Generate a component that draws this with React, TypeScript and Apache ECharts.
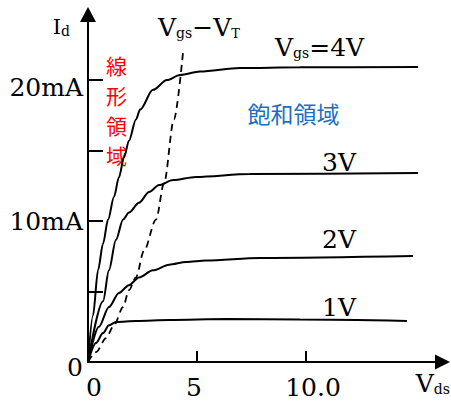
import React, { useEffect, useRef } from "react";
import * as echarts from "echarts";

// Drain current Id (mA) vs drain-source voltage Vds (V)
const VGS4: [number, number][] = [
  [0, 0], [0.23, 3.3], [0.46, 6.5], [0.69, 8.4], [0.92, 10.1], [1.19, 11.7],
  [1.42, 13.1], [1.65, 14.5], [1.88, 15.7], [2.2, 17.2], [2.39, 17.9],
  [2.98, 19.3], [3.62, 20.0], [4.22, 20.35], [5.14, 20.6], [6.97, 20.85],
  [9.72, 20.9], [15.14, 20.92],
];
const VGS3: [number, number][] = [
  [0, 0], [0.69, 4.3], [0.96, 6.5], [1.28, 8.65], [1.61, 10.1], [1.88, 10.6],
  [2.34, 11.3], [2.8, 12.05], [3.26, 12.55], [3.9, 12.9], [4.95, 13.12],
  [7.43, 13.33], [15.14, 13.4],
];
const VGS2: [number, number][] = [
  [0, 0], [0.5, 2.5], [0.96, 3.9], [1.42, 4.9], [1.88, 5.45], [2.34, 6.0],
  [2.98, 6.5], [3.72, 6.9], [4.5, 7.1], [5.41, 7.2], [7.89, 7.38], [14.91, 7.52],
];
const VGS1: [number, number][] = [
  [0, 0], [0.37, 1.35], [0.69, 2.05], [0.96, 2.6], [1.28, 2.84], [2.2, 2.91],
  [3.72, 2.98], [6.38, 3.05], [9.72, 3.01], [14.63, 2.91],
];
// Vds = Vgs - VT boundary (dashed)
const BOUNDARY: [number, number][] = [
  [0, 0], [0.37, 0.7], [0.83, 1.7], [1.19, 2.6], [1.61, 3.9], [1.88, 5.1],
  [2.2, 6.0], [2.57, 7.9], [3.12, 10.1], [3.49, 12.7], [3.94, 17.2], [4.36, 22.0],
];

const X_LABELS = [0, 5, 10];
const X_TICKS = [5, 10];
const Y_LABELS = [0, 10, 20];
const Y_TICKS = [5, 10, 15, 20];
const X_MAX = 16.26;
const Y_MAX = 24.65;

const SERIF = '"DejaVu Serif", serif';
const CJK = '"Noto Sans CJK JP", sans-serif';

const curveLabels = [
  { name: "3V", y: 162 },
  { name: "2V", y: 239 },
  { name: "1V", y: 307.5 },
];
const linearChars = ["線", "形", "領", "域"];

function lineSeries(data: [number, number][], dashed = false) {
  return {
    type: "line",
    data,
    symbol: "none",
    showSymbol: false,
    smooth: 0.3,
    smoothMonotone: "x",
    silent: true,
    emphasis: { disabled: true },
    lineStyle: {
      color: "#000",
      width: dashed ? 1.8 : 2,
      type: dashed ? [7, 5] : "solid",
    },
  };
}

const big = { fontFamily: SERIF, fontSize: 25, color: "#000", verticalAlign: "bottom" };
const small = { fontFamily: SERIF, fontSize: 14, color: "#000", verticalAlign: "bottom" };

export default function App() {
  const ref = useRef<HTMLDivElement>(null);
  useEffect(() => {
    if (!ref.current) return;
    const chart = echarts.init(ref.current, null, { renderer: "svg" });
    const option: any = {
      animation: false,
      backgroundColor: "#fff",
      grid: { left: 88, right: 8.5, top: 401 - 39 - Y_MAX * 14.1, bottom: 39, outerBoundsMode: "none" },
      xAxis: {
        type: "value",
        min: 0,
        max: X_MAX,
        splitLine: { show: false },
        axisLine: {
          show: true,
          symbol: ["none", "triangle"],
          symbolSize: [15, 15],
          lineStyle: { color: "#000", width: 2 },
        },
        axisTick: {
          show: true,
          inside: true,
          length: 11,
          customValues: X_TICKS,
          lineStyle: { color: "#000", width: 2 },
        },
        axisLabel: {
          customValues: X_LABELS,
          margin: 13,
          showMinLabel: true,
          fontFamily: SERIF,
          fontSize: 25,
          color: "#000",
          formatter: (v: number) =>
            v === 0 ? "{a|0}" : v === 5 ? "{b|5}" : "{c|10.0}",
          rich: {
            a: { fontFamily: SERIF, fontSize: 25, color: "#000", padding: [0, 0, 0, 12] },
            b: { fontFamily: SERIF, fontSize: 25, color: "#000", padding: [0, 6, 0, 0] },
            c: { fontFamily: SERIF, fontSize: 25, color: "#000", padding: [0, 0, 0, 14] },
          },
        },
        name: "{a|V}{b|ds}",
        nameLocation: "end",
        nameGap: 7.5,
        nameMoveOverlap: false,
        nameTextStyle: {
          align: "right",
          verticalAlign: "middle",
          padding: [42, 0, 0, 0],
          rich: { a: big, b: small },
        },
      },
      yAxis: {
        type: "value",
        min: 0,
        max: Y_MAX,
        splitLine: { show: false },
        axisLine: {
          show: true,
          symbol: ["none", "triangle"],
          symbolSize: [16, 15],
          lineStyle: { color: "#000", width: 2 },
        },
        axisTick: {
          show: true,
          inside: true,
          length: 15,
          customValues: Y_TICKS,
          lineStyle: { color: "#000", width: 2 },
        },
        axisLabel: {
          customValues: Y_LABELS,
          margin: 5,
          showMinLabel: true,
          showMaxLabel: true,
          fontFamily: SERIF,
          fontSize: 25,
          color: "#000",
          formatter: (v: number) =>
            v === 0 ? "{z|0}" : v === 20 ? "{t|20mA}" : "{n|" + v + "mA}",
          rich: {
            z: { fontFamily: SERIF, fontSize: 25, color: "#000", padding: [10, 0, 0, 0] },
            t: { fontFamily: SERIF, fontSize: 25, color: "#000", padding: [15, 0, 0, 0] },
            n: { fontFamily: SERIF, fontSize: 25, color: "#000" },
          },
        },
        name: "{a|I}{b|d}",
        nameLocation: "end",
        nameGap: -13,
        nameMoveOverlap: false,
        nameTextStyle: {
          align: "right",
          verticalAlign: "middle",
          padding: [0, 18, 0, 0],
          rich: {
            a: { fontFamily: SERIF, fontSize: 21, color: "#000", verticalAlign: "bottom" },
            b: { fontFamily: SERIF, fontSize: 14, color: "#000", verticalAlign: "bottom" },
          },
        },
      },
      series: [
        lineSeries(VGS4),
        lineSeries(VGS3),
        lineSeries(VGS2),
        lineSeries(VGS1),
        lineSeries(BOUNDARY, true),
      ],
      graphic: [
        {
          type: "text",
          silent: true,
          style: {
            x: 158,
            y: 27.5,
            text: "{a|V}{b|gs}{a|−V}{c|T}",
            align: "left",
            verticalAlign: "middle",
            rich: { a: big, b: small, c: { ...small, fontSize: 13 } },
          },
        },
        {
          type: "text",
          silent: true,
          style: {
            x: 275,
            y: 47,
            text: "{a|V}{b|gs}{a|=4V}",
            align: "left",
            verticalAlign: "middle",
            rich: { a: big, b: small },
          },
        },
        ...curveLabels.map((c) => ({
          type: "text",
          silent: true,
          style: {
            x: 322,
            y: c.y,
            text: c.name,
            font: `25px ${SERIF}`,
            fill: "#000",
            align: "left",
            verticalAlign: "middle",
          },
        })),
        ...linearChars.map((ch, i) => ({
          type: "text",
          silent: true,
          style: {
            x: 116.5,
            y: 64.5 + i * 30.3,
            text: ch,
            font: `21px ${CJK}`,
            fill: "#ff0000",
            align: "center",
            verticalAlign: "middle",
          },
        })),
        {
          type: "text",
          silent: true,
          style: {
            x: 293.5,
            y: 112.5,
            text: "飽和領域",
            font: `23px ${CJK}`,
            fill: "#1a6fc4",
            align: "center",
            verticalAlign: "middle",
          },
        },
      ],
    };
    chart.setOption(option);
    return () => chart.dispose();
  }, []);
  return (
    <div
      ref={ref}
      style={{ position: "absolute", left: 0, top: 0, width: 451, height: 401, background: "#fff" }}
    />
  );
}
